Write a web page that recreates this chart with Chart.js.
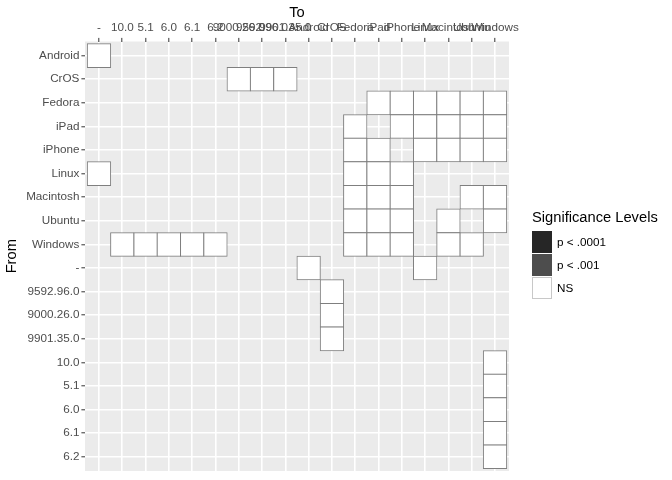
<!DOCTYPE html>
<html>
<head>
<meta charset="utf-8">
<script src="https://cdn.jsdelivr.net/npm/chart.js@4.4.1/dist/chart.umd.min.js"></script>
<style>
  html, body { margin: 0; padding: 0; background: #ffffff; }
  #wrap { position: relative; width: 672px; height: 480px; font-family: "Liberation Sans", Arial, sans-serif; }
  #c { position: absolute; left: 0; top: 0; }
  .legend-title { position: absolute; left: 532px; top: 209px; font-size: 14.7px; color: #000; white-space: nowrap; }
  .key { position: absolute; left: 532px; width: 20px; height: 22px; box-sizing: border-box; }
  .key-label { position: absolute; left: 557px; font-size: 11.7px; color: #000; white-space: nowrap; line-height: 14px; }
</style>
</head>
<body>
<div id="wrap">
  <canvas id="c" width="672" height="480"></canvas>
  <div id="legend"></div>
</div>
<script>
// ---- Data ----
const xCategories = ["-", "10.0", "5.1", "6.0", "6.1", "6.2", "9000.26.0", "9592.96.0", "9901.35.0",
  "Android", "CrOS", "Fedora", "iPad", "iPhone", "Linux", "Macintosh", "Ubuntu", "Windows"];
const yCategories = ["Android", "CrOS", "Fedora", "iPad", "iPhone", "Linux", "Macintosh", "Ubuntu", "Windows",
  "-", "9592.96.0", "9000.26.0", "9901.35.0", "10.0", "5.1", "6.0", "6.1", "6.2"];

const levels = ["p < .0001", "p < .001", "NS"];
const levelColors = ["#262626", "#4d4d4d", "#ffffff"];

const fromList = [
  "Android",
  "CrOS", "CrOS", "CrOS",
  "Fedora", "Fedora", "Fedora", "Fedora", "Fedora", "Fedora",
  "iPad", "iPad", "iPad", "iPad", "iPad", "iPad",
  "iPhone", "iPhone", "iPhone", "iPhone", "iPhone", "iPhone",
  "Linux", "Linux", "Linux", "Linux",
  "Macintosh", "Macintosh", "Macintosh", "Macintosh", "Macintosh",
  "Ubuntu", "Ubuntu", "Ubuntu", "Ubuntu", "Ubuntu",
  "Windows", "Windows", "Windows", "Windows", "Windows", "Windows", "Windows", "Windows", "Windows", "Windows",
  "-", "-",
  "9592.96.0", "9000.26.0", "9901.35.0",
  "10.0", "5.1", "6.0", "6.1", "6.2"
];
const toList = [
  "-",
  "9000.26.0", "9592.96.0", "9901.35.0",
  "iPad", "iPhone", "Linux", "Macintosh", "Ubuntu", "Windows",
  "Fedora", "iPhone", "Linux", "Macintosh", "Ubuntu", "Windows",
  "Fedora", "iPad", "Linux", "Macintosh", "Ubuntu", "Windows",
  "-", "Fedora", "iPad", "iPhone",
  "Fedora", "iPad", "iPhone", "Ubuntu", "Windows",
  "Fedora", "iPad", "iPhone", "Macintosh", "Windows",
  "10.0", "5.1", "6.0", "6.1", "6.2", "Fedora", "iPad", "iPhone", "Macintosh", "Ubuntu",
  "Android", "Linux",
  "CrOS", "CrOS", "CrOS",
  "Windows", "Windows", "Windows", "Windows", "Windows"
];
const significance = toList.map(() => "NS");

// ---- Build tiles ----
const tiles = fromList.map((f, k) => {
  const r = yCategories.indexOf(f);
  return { x: xCategories.indexOf(toList[k]), y: [r - 0.5, r + 0.5] };
});
const tileFill = significance.map(s => levelColors[levels.indexOf(s)]);

const FONT = "'Liberation Sans', Arial, sans-serif";

const panelBg = {
  id: 'panelBg',
  beforeDraw(chart) {
    const { ctx, chartArea: a } = chart;
    ctx.save();
    ctx.fillStyle = '#ebebeb';
    ctx.fillRect(a.left, a.top, a.right - a.left, a.bottom - a.top);
    ctx.restore();
  }
};

function axisOpts(cats, extra) {
  return Object.assign({
    type: 'linear',
    min: -0.6,
    max: cats.length - 0.4,
    offset: false,
    grid: { color: '#ffffff', lineWidth: 1.6, offset: false, drawTicks: true, tickLength: 3.6, tickColor: '#333333', tickWidth: 1 },
    border: { display: false },
    ticks: {
      stepSize: 1,
      includeBounds: false,
      autoSkip: false,
      maxRotation: 0,
      minRotation: 0,
      color: '#4d4d4d',
      font: { family: FONT, size: 11.7 },
      callback: (v) => cats[v]
    }
  }, extra);
}

new Chart(document.getElementById('c'), {
  type: 'bar',
  data: {
    datasets: [{
      label: 'NS',
      data: tiles,
      backgroundColor: tileFill,
      borderColor: '#7f7f7f',
      borderWidth: 1,
      borderSkipped: false,
      inflateAmount: 0.5,
      barPercentage: 1,
      categoryPercentage: 1
    }]
  },
  options: {
    responsive: false,
    animation: false,
    layout: { padding: { left: 0, top: 0, right: 163, bottom: 8 } },
    plugins: { legend: { display: false }, tooltip: { enabled: false } },
    scales: {
      x: axisOpts(xCategories, {
        position: 'top',
        title: { display: true, text: 'To', color: '#000', font: { family: FONT, size: 14.7 }, padding: { top: 4.5, bottom: 0 } },
        afterFit(s) { s.height = 41.5; }
      }),
      y: (() => {
        const o = axisOpts(yCategories, {
          position: 'left',
          reverse: true,
          title: { display: true, text: 'From', color: '#000', font: { family: FONT, size: 14.7 }, padding: { top: 3.5, bottom: 0 } },
          afterFit(s) { s.width = 85; }
        });
        o.ticks.padding = 2;
        return o;
      })()
    }
  },
  plugins: [panelBg]
});

// ---- Legend ----
const legend = document.getElementById('legend');
const t = document.createElement('div');
t.className = 'legend-title';
t.textContent = 'Significance Levels';
legend.appendChild(t);
levels.forEach((lv, i) => {
  const k = document.createElement('div');
  k.className = 'key';
  k.style.top = (231 + i * 23) + 'px';
  k.style.background = levelColors[i];
  if (levelColors[i] === '#ffffff') k.style.border = '1px solid #c8c8c8';
  legend.appendChild(k);
  const l = document.createElement('div');
  l.className = 'key-label';
  l.style.top = (231 + i * 23 + 4) + 'px';
  l.textContent = lv;
  legend.appendChild(l);
});
</script>
</body>
</html>
